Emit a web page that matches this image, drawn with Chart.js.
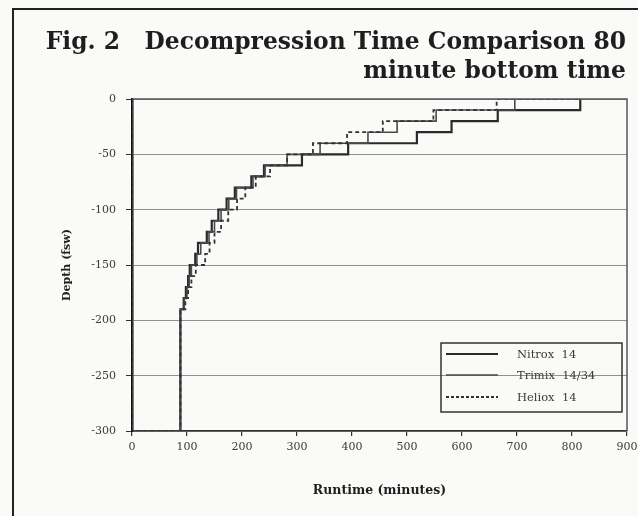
<!DOCTYPE html>
<html>
<head>
<meta charset="utf-8">
<script src="https://cdn.jsdelivr.net/npm/chart.js@4.4.0/dist/chart.umd.min.js"></script>
<style>
  html, body { margin: 0; padding: 0; background: #fafaf8; }
  #wrap { width: 638px; height: 516px; }
</style>
</head>
<body>
<div id="wrap"><canvas id="decoChart" width="638" height="516"></canvas></div>
<script>
// Dive profiles: at runtime[i] the diver moves to depth[i]
const nitroxDepth = [0, -300, -190, -180, -170, -160, -150, -140, -130, -120, -110, -100, -90, -80, -70, -60, -50, -40, -30, -20, -10, 0];
const nitroxTime  = [0, 0, 88, 94, 98, 102, 105, 115, 120, 136, 145, 157, 172, 187, 217, 240, 309, 393, 518, 581, 665, 815];

const trimixDepth = [0, -300, -190, -180, -170, -160, -150, -140, -130, -120, -110, -100, -90, -80, -70, -60, -50, -40, -30, -20, -10, 0];
const trimixTime  = [0, 0, 88, 95, 100, 104, 108, 118, 125, 140, 150, 162, 176, 190, 220, 242, 282, 342, 429, 482, 553, 696];

const helioxDepth = [0, -300, -190, -180, -170, -160, -150, -140, -130, -120, -110, -100, -90, -80, -70, -60, -50, -40, -30, -20, -10, 0, 0];
const helioxTime  = [0, 0, 88, 97, 102, 108, 116, 133, 141, 150, 162, 175, 191, 206, 225, 251, 282, 329, 391, 456, 548, 663, 815];

const seriesNames = ['Nitrox  14', 'Trimix  14/34', 'Heliox  14'];
const xTicks = [0, 100, 200, 300, 400, 500, 600, 700, 800, 900];
const yTicks = [0, -50, -100, -150, -200, -250, -300];

const titleLines = ['Fig. 2   Decompression Time Comparison 80', 'minute bottom time'];

function toPoints(times, depths) {
    return times.map((t, i) => ({ x: t, y: depths[i] }));
}

const lineStyles = [
    { color: '#2a2a2a', width: 2.2, dash: [] },
    { color: '#4a4a4a', width: 1.6, dash: [] },
    { color: '#333333', width: 1.8, dash: [4, 3] }
];

// Frame, title and legend drawn around the chart area
const decoDecor = {
    id: 'decoDecor',
    beforeDraw(chart) {
        const ctx = chart.ctx;
        ctx.save();
        ctx.fillStyle = '#fafaf8';
        ctx.fillRect(0, 0, chart.width, chart.height);
        ctx.restore();
    },
    afterDraw(chart) {
        const ctx = chart.ctx;
        const area = chart.chartArea;
        ctx.save();

        // outer figure frame
        ctx.strokeStyle = '#222';
        ctx.lineWidth = 2;
        ctx.beginPath();
        ctx.moveTo(13, 516);
        ctx.lineTo(13, 9);
        ctx.lineTo(638, 9);
        ctx.stroke();

        // top and right edges of the plot box
        ctx.strokeStyle = '#555';
        ctx.lineWidth = 1.5;
        ctx.beginPath();
        ctx.moveTo(area.left, area.top);
        ctx.lineTo(area.right, area.top);
        ctx.lineTo(area.right, area.bottom);
        ctx.stroke();

        // title
        ctx.fillStyle = '#1e1e1e';
        ctx.font = 'bold 23.4px "DejaVu Serif"';
        ctx.textAlign = 'right';
        ctx.textBaseline = 'alphabetic';
        ctx.fillText(titleLines[0], 626, 49);
        ctx.fillText(titleLines[1], 626, 78);

        // legend
        ctx.strokeStyle = '#333';
        ctx.lineWidth = 1.5;
        ctx.strokeRect(441, 343, 181, 69);
        ctx.font = '11.5px "DejaVu Serif"';
        ctx.textAlign = 'left';
        ctx.textBaseline = 'middle';
        const rows = [354, 375, 397];
        seriesNames.forEach((name, i) => {
            const st = lineStyles[i];
            ctx.strokeStyle = st.color;
            ctx.lineWidth = st.width;
            ctx.setLineDash(st.dash.length ? [3, 2] : []);
            ctx.beginPath();
            ctx.moveTo(446, rows[i]);
            ctx.lineTo(498, rows[i]);
            ctx.stroke();
            ctx.setLineDash([]);
            ctx.fillStyle = '#3a3a3a';
            ctx.fillText(name, 517, rows[i] + 1);
        });
        ctx.restore();
    }
};

const profiles = [
    toPoints(nitroxTime, nitroxDepth),
    toPoints(trimixTime, trimixDepth),
    toPoints(helioxTime, helioxDepth)
];

const tickFont = { family: '"DejaVu Serif"', size: 11 };

new Chart(document.getElementById('decoChart').getContext('2d'), {
    type: 'line',
    data: {
        datasets: profiles.map((pts, i) => ({
            label: seriesNames[i],
            data: pts,
            stepped: 'before',
            borderColor: lineStyles[i].color,
            borderWidth: lineStyles[i].width,
            borderDash: lineStyles[i].dash,
            pointRadius: 0,
            fill: false,
            order: 3 - i
        }))
    },
    options: {
        responsive: false,
        animation: false,
        devicePixelRatio: 1,
        layout: { padding: { left: 0, top: 99, right: 11, bottom: 0 } },
        plugins: {
            legend: { display: false },
            title: { display: false },
            tooltip: { enabled: false }
        },
        scales: {
            x: {
                type: 'linear',
                min: 0,
                max: 900,
                afterBuildTicks: s => { s.ticks = xTicks.map(v => ({ value: v })); },
                afterFit: s => {
                    s.height = 85;
                    // let the end labels overhang instead of shrinking the plot
                    s.paddingLeft = 0;
                    s.paddingRight = 0;
                },
                ticks: { color: '#3a3a3a', font: tickFont, padding: 5, maxRotation: 0 },
                grid: { drawOnChartArea: false, drawTicks: true, tickLength: 5, tickColor: '#333', lineWidth: 1.2 },
                border: { color: '#333', width: 1.5 },
                title: {
                    display: true,
                    text: 'Runtime (minutes)',
                    color: '#1e1e1e',
                    font: { family: '"DejaVu Serif"', size: 12.5, weight: 'bold' },
                    padding: { top: 0, bottom: 18 }
                }
            },
            y: {
                type: 'linear',
                min: -300,
                max: 0,
                afterBuildTicks: s => { s.ticks = yTicks.map(v => ({ value: v })); },
                afterFit: s => { s.width = 132; },
                ticks: { color: '#3a3a3a', font: tickFont, padding: 10 },
                grid: { color: '#909090', lineWidth: 1, tickLength: 6, tickColor: '#333' },
                border: { color: '#111', width: 2.5 },
                title: {
                    display: true,
                    text: 'Depth (fsw)',
                    color: '#1e1e1e',
                    font: { family: '"DejaVu Serif"', size: 11, weight: 'bold' },
                    padding: { top: 61, bottom: 0 }
                }
            }
        }
    },
    plugins: [decoDecor]
});
</script>
</body>
</html>
